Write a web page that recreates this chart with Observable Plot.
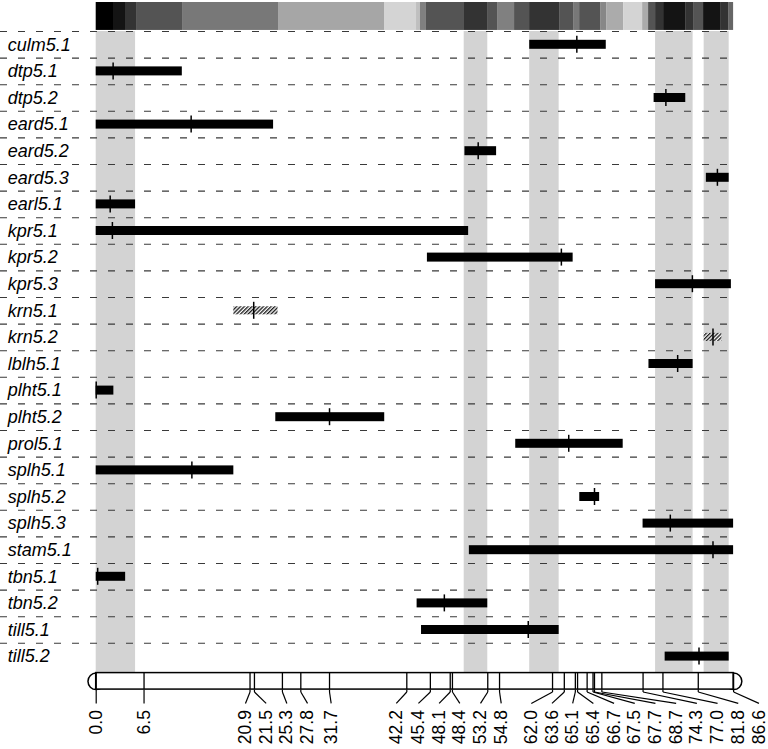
<!DOCTYPE html>
<html><head><meta charset="utf-8">
<script src="https://cdn.jsdelivr.net/npm/d3@7"></script>
<script src="https://cdn.jsdelivr.net/npm/@observablehq/plot@0.6"></script>
<style>html,body{margin:0;padding:0;background:#fff;} #chart svg{display:block}</style>
</head><body><div id="chart"></div>
<script>
// ---- data ----
const traits = ["culm5.1","dtp5.1","dtp5.2","eard5.1","eard5.2","eard5.3","earl5.1","kpr5.1","kpr5.2","kpr5.3","krn5.1","krn5.2","lblh5.1","plht5.1","plht5.2","prol5.1","splh5.1","splh5.2","splh5.3","stam5.1","tbn5.1","tbn5.2","till5.1","till5.2"];
const ciStart = [58.9, 0, 75.8, 0, 50.1, 82.9, 0, 0, 45.0, 76.0, 18.7, 82.6, 75.1, 0, 24.4, 57.0, 0, 65.7, 74.3, 50.7, 0, 43.6, 44.2, 77.3];
const ciEnd   = [69.3, 11.7, 80.1, 24.1, 54.4, 86.0, 5.35, 50.6, 64.8, 86.3, 24.7, 85.0, 81.1, 2.4, 39.2, 71.6, 18.7, 68.4, 86.6, 86.6, 4.0, 53.2, 62.9, 86.0];
const peak    = [65.3, 2.3, 77.4, 12.9, 51.9, 84.4, 1.9, 2.2, 63.2, 81.0, 21.4, 83.8, 79.0, 0.0, 31.7, 64.2, 13.0, 67.7, 78.0, 83.8, 0.2, 47.3, 58.7, 81.9];
const hatched = ["krn5.1", "krn5.2"];
const markers = [0.0, 6.5, 20.9, 21.5, 25.3, 27.8, 31.7, 42.2, 45.4, 48.1, 48.4, 53.2, 54.8, 62.0, 63.6, 65.1, 65.4, 66.7, 67.5, 67.7, 68.7, 74.3, 77.0, 81.8, 86.6];
const shadeStart = [0, 50.0, 58.9, 76.0, 82.6];
const shadeEnd   = [5.35, 53.2, 62.9, 81.1, 86.0];
const bandBreaks = [0, 2.35, 3.98, 5.48, 11.73, 24.77, 39.17, 43.52, 44.06, 44.87, 50.04, 53.17, 54.53, 56.84, 58.88, 62.96, 64.86, 65.68, 68.53, 69.35, 71.66, 74.24, 75.05, 76.0, 77.09, 80.08, 81.16, 82.52, 84.83, 85.92, 86.6];
const bandLevel  = [0, 0.08, 0.2, 0.33, 0.47, 0.65, 0.83, 0.75, 0.5, 0.33, 0.2, 0.33, 0.5, 0.33, 0.2, 0.33, 0.47, 0.33, 0.53, 0.67, 0.83, 0.67, 0.33, 0.2, 0.08, 0.2, 0.33, 0.08, 0.2, 0.4];

// ---- derived tables ----
const rows = traits.map((t, i) => ({trait: t, i, x1: ciStart[i], x2: ciEnd[i], peak: peak[i], hatch: hatched.includes(t)}));
const shades = shadeStart.map((s, i) => ({x1: s, x2: shadeEnd[i]}));
const bands = bandLevel.map((v, i) => ({x1: bandBreaks[i], x2: bandBreaks[i + 1], v}));

// label spreading (average of least-squares and forward push)
const W = 768, H = 749;
const xr = [95.7, 733.1];
const pxPerUnit = (xr[1] - xr[0]) / (markers[markers.length - 1] - markers[0]);
const gap = 20.7 / pxPerUnit;
function spread(p, g) {
  const n = p.length;
  // PAV isotonic regression on p[i] - i*g
  const y = p.map((v, i) => v - i * g);
  const blocks = [];
  y.forEach((v) => {
    blocks.push({sum: v, n: 1});
    while (blocks.length > 1 && blocks[blocks.length - 2].sum / blocks[blocks.length - 2].n > blocks[blocks.length - 1].sum / blocks[blocks.length - 1].n) {
      const b = blocks.pop();
      blocks[blocks.length - 1].sum += b.sum;
      blocks[blocks.length - 1].n += b.n;
    }
  });
  const pav = [];
  blocks.forEach(b => { for (let k = 0; k < b.n; k++) pav.push(b.sum / b.n); });
  const ls = pav.map((v, i) => v + i * g);
  const fw = [];
  p.forEach((v, i) => fw.push(i === 0 ? v : Math.max(v, fw[i - 1] + g)));
  return ls.map((v, i) => (v + fw[i]) / 2);
}
const labPos = spread(markers, gap);
const marks = markers.map((m, i) => ({pos: m, lab: labPos[i], text: m.toFixed(1)}));

// ---- vertical layout in row units ----
const rowPx = 26.6, top0 = 31;
const yDom = [-top0 / rowPx, (H - top0) / rowPx];
const chrTop = 24.12, chrBot = 24.74, chrMid = (chrTop + chrBot) / 2;
const barHalf = 4.5 / rowPx, tickHalf = 8.5 / rowPx;
const font = "'Liberation Sans', Arial, Helvetica, sans-serif";

const chart = Plot.plot({
  width: W, height: H,
  marginLeft: xr[0], marginRight: W - xr[1], marginTop: 0, marginBottom: 0,
  x: {domain: [0, 86.6], range: xr, axis: null},
  y: {domain: yDom, range: [0, H], axis: null},
  color: {type: "linear", domain: [0, 1], range: ["#000000", "#ffffff"], interpolate: "rgb"},
  style: {background: "white", fontFamily: font, overflow: "visible"},
  marks: [
    // shaded columns
    Plot.rect(shades, {x1: "x1", x2: "x2", y1: 0, y2: chrTop, fill: "#d3d3d3"}),
    // top density band
    Plot.rect(bands, {x1: "x1", x2: "x2", y1: -1.09, y2: -0.04, fill: "v"}),
    // dashed row separators
    Plot.ruleY(d3.range(traits.length), {stroke: "#3a3a3a", strokeWidth: 1.1, strokeDasharray: "7,11", insetLeft: -xr[0], insetRight: -2}),
    // trait labels
    Plot.text(rows, {x: 0, y: d => d.i + 0.5, text: "trait", textAnchor: "start", dx: -88.5, fontStyle: "italic", fontSize: 18, fill: "black"}),
    // QTL intervals
    Plot.rect(rows.filter(d => !d.hatch), {x1: "x1", x2: "x2", y1: d => d.i + 0.5 - barHalf, y2: d => d.i + 0.5 + barHalf, fill: "black"}),
    Plot.rect(rows.filter(d => d.hatch), {x1: "x1", x2: "x2", y1: d => d.i + 0.5 - barHalf * 0.9, y2: d => d.i + 0.5 + barHalf * 0.9, fill: "url(#hatch)"}),
    Plot.ruleX(rows, {x: "peak", y1: d => d.i + 0.5 - tickHalf, y2: d => d.i + 0.5 + tickHalf, stroke: "black", strokeWidth: 1.5}),
    // chromosome
    Plot.dot([markers[0], markers[markers.length - 1]], {x: d => d, y: chrMid, r: (chrBot - chrTop) * rowPx / 2, fill: "white", stroke: "black", strokeWidth: 1.5}),
    Plot.rect([{x1: markers[0], x2: markers[markers.length - 1]}], {x1: "x1", x2: "x2", y1: chrTop, y2: chrBot, fill: "white", stroke: "black", strokeWidth: 1.5}),
    Plot.ruleX(marks, {x: "pos", y1: chrTop, y2: chrBot, stroke: "black", strokeWidth: 1.3}),
    // leader lines
    Plot.link(marks, {x1: "pos", x2: "pos", y1: chrBot, y2: chrBot + 0.09, stroke: "black", strokeWidth: 1.2}),
    Plot.link(marks, {x1: "pos", x2: "lab", y1: chrBot + 0.09, y2: chrBot + 0.52, stroke: "black", strokeWidth: 1.2}),
    // marker position labels
    Plot.text(marks, {x: "lab", y: chrBot + 0.77, text: "text", rotate: -90, textAnchor: "end", fontSize: 17.5, fill: "black"})
  ]
});

// hatch pattern
const ns = "http://www.w3.org/2000/svg";
const defs = document.createElementNS(ns, "defs");
const pat = document.createElementNS(ns, "pattern");
pat.setAttribute("id", "hatch");
pat.setAttribute("patternUnits", "userSpaceOnUse");
pat.setAttribute("width", "2.7");
pat.setAttribute("height", "10");
pat.setAttribute("patternTransform", "rotate(45)");
const bg = document.createElementNS(ns, "rect");
bg.setAttribute("width", "2.7"); bg.setAttribute("height", "10"); bg.setAttribute("fill", "white");
const ln = document.createElementNS(ns, "line");
ln.setAttribute("x1", "0.7"); ln.setAttribute("x2", "0.7"); ln.setAttribute("y1", "0"); ln.setAttribute("y2", "10");
ln.setAttribute("stroke", "black"); ln.setAttribute("stroke-width", "1.2");
pat.appendChild(bg); pat.appendChild(ln); defs.appendChild(pat);
chart.insertBefore(defs, chart.firstChild);

document.getElementById("chart").appendChild(chart);
</script>
</body></html>
